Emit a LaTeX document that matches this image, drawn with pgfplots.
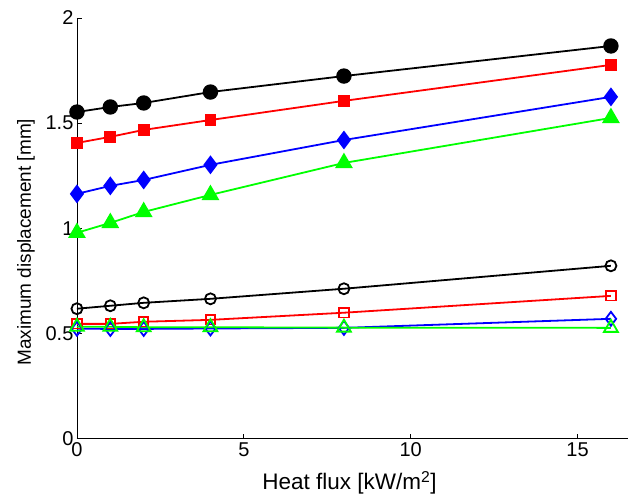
\documentclass[border=0pt]{standalone}
\usepackage{fontspec}
\setmainfont{Liberation Sans}
\usepackage{pgfplots}
\pgfplotsset{compat=1.18}
\begin{document}
\begin{tikzpicture}
\begin{axis}[
  scale only axis, width=551pt, height=421pt,
  xmin=0, xmax=16.5, ymin=0, ymax=2,
  axis x line*=bottom, axis y line*=left,
  axis line style={black, line width=0.8pt},
  xtick={0,5,10,15}, ytick={0,0.5,1,1.5,2},
  tick align=inside, major tick length=5pt,
  tick style={black, line width=0.8pt},
  /pgf/number format/assume math mode=true,
  ticklabel style={font=\fontsize{20}{20}\selectfont},
  xlabel={Heat flux [kW/m\textsuperscript{2}]},
  ylabel={Maximum displacement [mm]},
  every axis x label/.style={at={(axis description cs:0.495,-0.1045)}, anchor=center, font=\fontsize{22.5}{22.5}\selectfont},
  every axis y label/.style={at={(axis description cs:-0.0926,0.467)}, rotate=90, anchor=center, font=\fontsize{19}{19}\selectfont},
  clip=false,
  every axis plot/.append style={line width=1.8pt},
]
\addplot[black, mark=*, mark size=6.8pt] coordinates {(0,1.553) (1,1.577) (2,1.596) (4,1.648) (8,1.724) (16,1.867)};
\addplot[red, mark=square*, mark size=5pt] coordinates {(0,1.406) (1,1.435) (2,1.468) (4,1.515) (8,1.606) (16,1.777)};
\addplot[blue, mark=diamond*, mark size=8pt] coordinates {(0,1.164) (1,1.202) (2,1.230) (4,1.302) (8,1.420) (16,1.625)};
\addplot[green, mark=triangle*, mark size=8.5pt] coordinates {(0,0.979) (1,1.026) (2,1.078) (4,1.159) (8,1.311) (16,1.525)};
\addplot[black, mark=o, mark size=5.5pt] coordinates {(0,0.618) (1,0.632) (2,0.646) (4,0.665) (8,0.713) (16,0.822)};
\addplot[red, mark=square, mark size=4.7pt] coordinates {(0,0.546) (1,0.546) (2,0.556) (4,0.565) (8,0.599) (16,0.679)};
\addplot[blue, mark=diamond, mark size=7pt] coordinates {(0,0.523) (1,0.522) (2,0.522) (4,0.524) (8,0.527) (16,0.570)};
\addplot[green, mark=triangle, mark size=8pt] coordinates {(0,0.532) (1,0.532) (2,0.530) (4,0.530) (8,0.528) (16,0.527)};
\end{axis}
\path (current axis.south west) ++(-77pt,-65pt) rectangle ++(628pt,504pt);
\end{tikzpicture}
\end{document}
